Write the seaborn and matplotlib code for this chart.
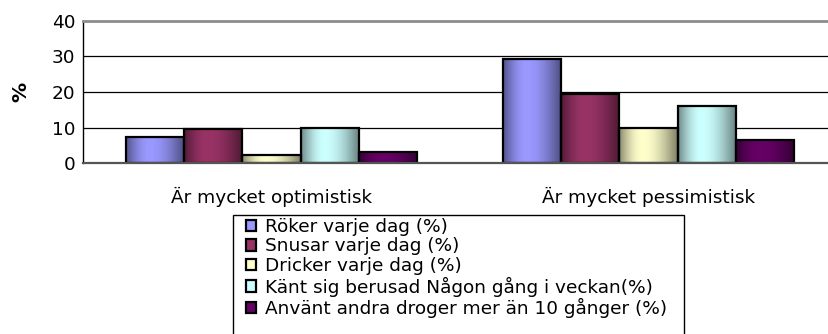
import numpy as np
import pandas as pd
import matplotlib
matplotlib.use("Agg")
import matplotlib.pyplot as plt
from matplotlib.patches import Patch, Rectangle
import matplotlib.colors as mcolors
import seaborn as sns

categories = ["Är mycket optimistisk", "Är mycket pessimistisk"]
series = [
    "Röker varje dag (%)",
    "Snusar varje dag (%)",
    "Dricker varje dag (%)",
    "Känt sig berusad Någon gång i veckan(%)",
    "Använt andra droger mer än 10 gånger (%)",
]
roker = [7.4, 29.2]
snusar = [9.6, 19.4]
dricker = [2.3, 9.9]
berusad = [10.0, 16.1]
droger = [3.1, 6.5]
colors = ["#9999FF", "#993366", "#FFFFCC", "#CCFFFF", "#660066"]
yticks = [0, 10, 20, 30, 40]

values = [roker, snusar, dricker, berusad, droger]
df = pd.DataFrame(
    [(c, s, v[i]) for s, v in zip(series, values) for i, c in enumerate(categories)],
    columns=["grupp", "serie", "procent"],
)

sns.set_style("white")
plt.rcParams["font.family"] = ["DejaVu Sans"]
for key in ["text.color", "axes.labelcolor", "xtick.color", "ytick.color"]:
    plt.rcParams[key] = "black"
FS = 13.3

fig = plt.figure(figsize=(8.29, 3.34), dpi=100)
W, H = 829, 334
ax = fig.add_axes([83 / W, (334 - 163.3) / H, (837 - 83) / W, (163.3 - 20.7) / H])

sns.barplot(
    data=df, x="grupp", y="procent", hue="serie", hue_order=series,
    order=categories, palette=colors, width=0.77, ax=ax, legend=False,
    edgecolor="black", linewidth=1.6, saturation=1,
)

# cylinder-like shading across each bar
t = np.linspace(0, 1, 64)
shade = np.where(t < 0.4, 0.55 + 0.45 * np.sin(t / 0.4 * np.pi / 2),
                 0.5 + 0.5 * np.cos((t - 0.4) / 0.6 * np.pi / 2))
for p in list(ax.patches):
    w, h = p.get_width(), p.get_height()
    if h <= 0:
        continue
    x0, y0 = p.get_x(), p.get_y()
    base = np.array(mcolors.to_rgb(p.get_facecolor()))
    img = np.clip(base[None, None, :] * shade[None, :, None], 0, 1)
    ax.imshow(img, extent=[x0, x0 + w, y0, y0 + h], aspect="auto",
              interpolation="bilinear", zorder=p.get_zorder() + 0.1)
    p.set_facecolor("none")
    p.set_zorder(p.get_zorder() + 0.2)

ax.set_xlim(-0.5, 1.5)
ax.set_ylim(0, 40)
ax.set_yticks(yticks)
ax.set_yticklabels([str(v) for v in yticks], fontsize=FS)
ax.set_xticks([0, 1])
ax.set_xticklabels(categories, fontsize=FS)
ax.set_xticks([-0.5, 0.5, 1.5], minor=True)
ax.tick_params(axis="x", which="major", length=0, pad=17)
ax.tick_params(axis="x", which="minor", length=5.5, width=1, color="black", direction="out")
ax.tick_params(axis="y", which="major", length=4.5, width=1, color="black", direction="out", pad=1)
ax.set_xlabel("")
ax.set_ylabel("%", fontsize=14.5, fontweight="bold")
ax.yaxis.set_label_coords((30 - 83) / 754, 0.5)

for y in yticks[1:-1]:
    ax.axhline(y, color="black", linewidth=0.9, zorder=0.5)

ax.spines["right"].set_visible(False)
ax.spines["top"].set_color("#8c8c8c")
ax.spines["top"].set_linewidth(2)
ax.spines["left"].set_color("black")
ax.spines["left"].set_linewidth(1)
ax.spines["bottom"].set_color("#555555")
ax.spines["bottom"].set_linewidth(1.6)
for s in ax.spines.values():
    s.set_zorder(5)

# legend box and entries
fig.patches.append(Rectangle((233 / W, -0.05), (684 - 233) / W, 0.05 + (334 - 214.7) / H,
                             transform=fig.transFigure, fill=False,
                             edgecolor="black", linewidth=1))
handles = [Patch(facecolor=c, edgecolor="black", linewidth=1.6) for c in colors]
fig.legend(handles, series, loc="upper left",
           bbox_to_anchor=(246 / W, 1 - 218 / H), bbox_transform=fig.transFigure,
           frameon=False, fontsize=FS, borderpad=0, borderaxespad=0,
           handlelength=0.55, handleheight=0.55, handletextpad=0.5,
           labelspacing=0.08)

fig.savefig("out.png", dpi=100)
